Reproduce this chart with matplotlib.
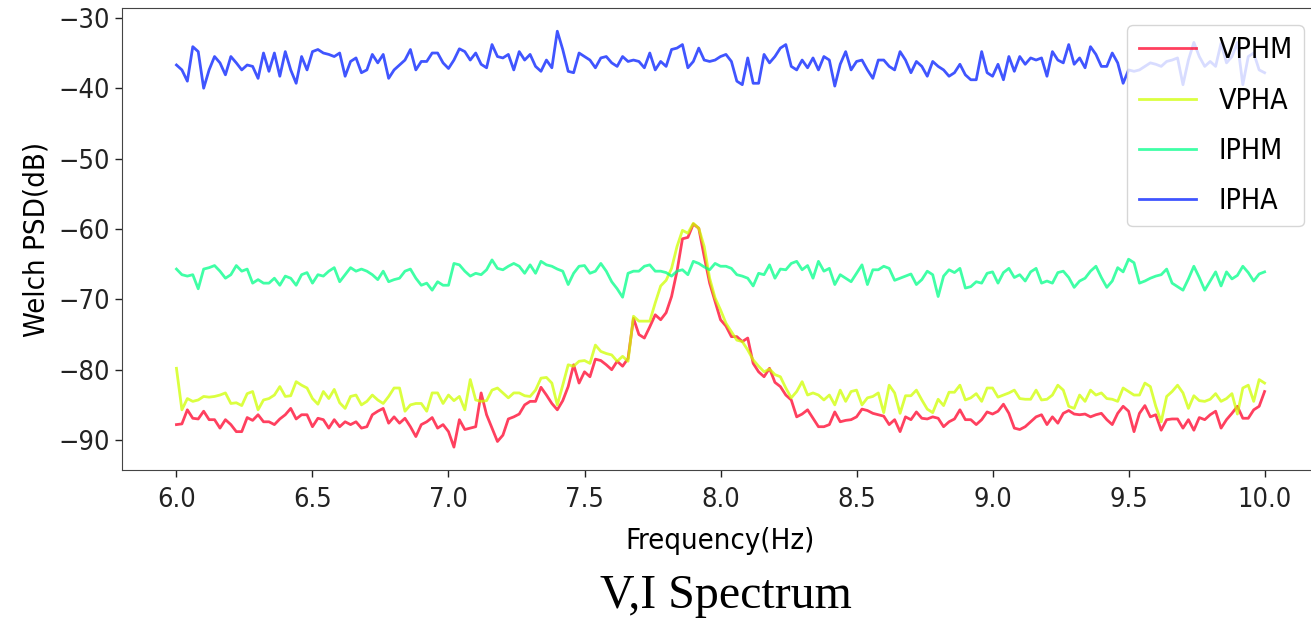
import matplotlib
matplotlib.use("Agg")
import matplotlib.pyplot as plt
import numpy as np

# frequency grid (Hz), 0.02 Hz bins from 6 to 10
freq = np.linspace(6.0, 10.0, 201)

vphm = [
    -87.8, -87.7, -85.7, -86.9, -87.0, -85.9, -87.1, -87.1, -88.3, -87.1,
    -87.8, -88.8, -88.8, -86.8, -87.2, -86.4, -87.4, -87.4, -87.8, -87.0,
    -86.4, -85.5, -87.0, -86.4, -86.4, -88.1, -86.9, -87.1, -88.3, -87.1,
    -88.1, -87.4, -87.8, -87.4, -88.3, -88.1, -86.4, -85.9, -85.5, -87.6,
    -86.7, -87.6, -86.9, -88.1, -89.5, -87.8, -87.4, -86.8, -88.3, -87.8,
    -88.8, -91.0, -87.1, -88.5, -88.3, -88.1, -83.3, -86.4, -88.3, -90.2,
    -89.3, -87.0, -86.7, -86.3, -85.0, -84.5, -84.5, -82.5, -83.6, -84.8,
    -85.7, -84.4, -82.4, -79.3, -81.9, -80.3, -81.0, -78.5, -78.7, -79.3,
    -80.0, -78.8, -79.5, -78.4, -72.7, -75.0, -75.5, -73.9, -72.2, -72.9,
    -71.9, -69.6, -66.0, -61.4, -61.2, -59.3, -59.9, -63.9, -67.7, -70.3,
    -72.9, -73.8, -75.3, -75.3, -76.0, -75.5, -79.1, -80.3, -81.0, -79.8,
    -81.8, -82.4, -83.6, -84.3, -86.7, -86.3, -85.7, -86.9, -88.1, -88.1,
    -87.8, -86.0, -87.4, -87.2, -87.1, -86.7, -85.6, -85.8, -86.2, -86.4,
    -86.6, -87.8, -87.1, -88.8, -86.7, -87.1, -86.0, -86.9, -87.0, -86.7,
    -86.9, -88.1, -87.4, -87.0, -85.7, -87.1, -87.1, -87.8, -87.1, -86.0,
    -86.3, -85.9, -84.9, -86.2, -88.3, -88.5, -88.1, -87.4, -86.7, -86.4,
    -87.8, -86.7, -87.6, -86.2, -85.8, -86.3, -86.4, -86.3, -86.7, -86.4,
    -86.2, -87.1, -87.8, -86.2, -85.2, -85.9, -88.8, -86.2, -85.1, -86.7,
    -86.4, -88.6, -87.1, -87.0, -87.0, -88.3, -87.1, -88.6, -86.8, -87.1,
    -86.4, -85.9, -88.3, -87.1, -86.2, -85.2, -86.9, -86.9, -85.7, -85.2,
    -83.1,
]

vpha = [
    -79.8, -85.7, -84.1, -84.5, -84.3, -83.8, -83.9, -83.8, -83.6, -83.3,
    -84.8, -84.7, -85.1, -83.4, -83.1, -85.7, -84.3, -84.1, -83.6, -82.4,
    -83.8, -83.7, -81.7, -82.2, -82.6, -84.1, -84.9, -83.1, -84.1, -82.8,
    -84.7, -85.5, -83.8, -83.6, -85.0, -84.5, -83.6, -84.3, -84.8, -83.8,
    -82.6, -82.6, -85.9, -85.0, -84.8, -84.8, -85.9, -83.3, -83.3, -84.8,
    -83.6, -84.4, -83.8, -85.7, -81.4, -84.3, -84.5, -84.4, -82.9, -82.6,
    -83.3, -84.0, -83.3, -83.3, -83.7, -83.8, -82.9, -81.2, -81.1, -81.9,
    -85.0, -82.2, -79.3, -79.5, -78.8, -78.7, -79.1, -76.5, -77.4, -77.7,
    -77.9, -78.8, -78.1, -78.8, -72.4, -73.1, -73.1, -73.1, -70.5, -68.1,
    -67.3, -65.6, -62.5, -60.2, -60.6, -59.2, -59.9, -62.5, -67.0, -69.8,
    -71.5, -73.4, -74.6, -75.8, -76.0, -77.2, -78.6, -79.5, -80.3, -79.9,
    -80.7, -81.0, -82.6, -84.0, -83.1, -81.7, -83.6, -83.3, -83.6, -84.3,
    -83.6, -85.0, -82.9, -84.5, -83.1, -82.9, -85.0, -84.0, -83.8, -83.3,
    -86.1, -82.2, -83.3, -86.2, -83.7, -83.7, -82.9, -84.3, -85.6, -86.1,
    -84.2, -85.1, -83.2, -83.2, -82.2, -84.3, -84.0, -83.4, -84.5, -82.6,
    -82.6, -83.9, -83.6, -83.3, -82.9, -84.1, -84.2, -84.2, -82.9, -84.3,
    -84.2, -83.6, -82.2, -82.9, -85.2, -85.5, -83.6, -84.5, -82.9, -83.6,
    -83.3, -84.1, -84.2, -84.5, -82.6, -83.1, -83.6, -83.6, -81.9, -82.4,
    -85.2, -87.4, -83.8, -83.1, -82.2, -83.3, -85.5, -83.7, -84.4, -84.5,
    -84.2, -83.4, -84.5, -84.1, -83.4, -86.3, -82.6, -82.2, -84.5, -81.4,
    -81.9,
]

iphm = [
    -65.7, -66.5, -66.7, -66.5, -68.5, -65.7, -65.5, -65.2, -66.0, -67.0,
    -66.5, -65.2, -66.0, -65.7, -67.7, -67.2, -67.7, -67.7, -67.0, -68.0,
    -66.7, -67.0, -68.0, -66.5, -66.2, -67.7, -66.5, -66.7, -66.0, -65.5,
    -67.5, -66.5, -65.5, -66.0, -65.7, -66.0, -66.5, -67.2, -66.0, -67.5,
    -67.2, -67.0, -66.0, -65.7, -67.0, -68.0, -67.7, -68.7, -67.5, -68.0,
    -68.0, -64.9, -65.1, -66.0, -66.7, -66.3, -66.5, -65.8, -64.4, -65.6,
    -65.8, -65.3, -64.9, -65.3, -66.3, -65.1, -66.3, -64.6, -65.1, -65.3,
    -65.7, -66.0, -67.9, -66.3, -65.3, -65.2, -66.3, -66.0, -64.9, -66.0,
    -67.5, -68.5, -69.7, -66.3, -66.0, -66.0, -65.3, -65.1, -66.0, -66.0,
    -66.2, -66.7, -66.0, -65.8, -66.5, -64.6, -64.9, -65.4, -65.8, -64.9,
    -65.3, -65.3, -65.6, -66.5, -66.7, -67.0, -68.1, -66.3, -66.5, -65.1,
    -67.0, -65.7, -65.8, -64.9, -64.6, -65.8, -65.2, -67.0, -64.6, -66.0,
    -65.6, -67.9, -66.5, -67.0, -67.5, -66.3, -65.1, -67.9, -65.8, -65.8,
    -65.3, -65.6, -67.3, -67.0, -66.7, -66.4, -67.9, -67.2, -66.0, -66.5,
    -69.6, -66.7, -65.8, -66.2, -65.6, -68.4, -68.2, -67.5, -67.7, -66.3,
    -66.1, -67.7, -66.2, -65.6, -66.9, -66.5, -67.4, -66.1, -65.6, -67.7,
    -67.4, -67.7, -66.2, -66.0, -66.9, -68.3, -67.4, -67.0, -66.0, -65.3,
    -66.9, -68.3, -67.4, -65.5, -66.1, -64.3, -64.8, -67.7, -67.4, -67.0,
    -66.7, -66.5, -65.7, -67.7, -68.2, -68.7, -67.1, -65.3, -66.9, -68.7,
    -67.4, -66.1, -68.1, -66.1, -67.1, -66.6, -65.3, -66.2, -67.4, -66.4,
    -66.1,
]

ipha = [
    -36.7, -37.4, -39.0, -34.1, -34.8, -40.0, -37.4, -35.5, -36.4, -38.1,
    -35.5, -36.4, -37.4, -36.7, -36.9, -38.6, -35.0, -37.6, -35.0, -38.3,
    -34.8, -37.4, -39.3, -35.5, -37.4, -34.8, -34.5, -35.0, -35.2, -35.5,
    -35.0, -38.3, -36.2, -35.7, -37.8, -37.4, -35.2, -36.4, -35.2, -38.6,
    -37.4, -36.7, -36.0, -34.5, -37.4, -36.2, -36.2, -35.0, -35.0, -36.4,
    -37.2, -36.0, -34.4, -34.8, -36.0, -35.0, -36.6, -37.1, -33.8, -35.5,
    -35.7, -35.2, -37.4, -34.8, -36.0, -35.2, -36.9, -37.6, -36.0, -37.1,
    -31.9, -34.5, -37.6, -37.8, -35.0, -35.5, -36.0, -37.1, -35.7, -35.5,
    -36.4, -36.9, -35.5, -36.2, -36.0, -36.2, -37.1, -35.0, -37.4, -36.2,
    -36.9, -34.5, -34.3, -33.8, -37.1, -36.2, -34.3, -36.0, -36.2, -36.0,
    -35.5, -35.2, -36.2, -39.0, -39.5, -35.7, -39.3, -39.3, -35.2, -36.4,
    -35.5, -34.3, -33.8, -36.9, -37.4, -36.0, -37.1, -35.7, -37.4, -35.5,
    -36.0, -39.7, -36.6, -34.8, -37.4, -36.2, -36.0, -37.4, -38.6, -36.0,
    -36.0, -36.9, -37.4, -34.8, -36.0, -37.8, -36.2, -36.9, -38.3, -36.2,
    -36.9, -37.4, -38.3, -37.8, -36.6, -38.1, -38.8, -38.8, -34.8, -37.8,
    -38.3, -36.6, -38.8, -35.5, -37.6, -35.5, -36.6, -35.7, -36.0, -35.7,
    -38.3, -34.8, -36.0, -36.4, -33.8, -36.6, -35.7, -37.1, -34.1, -35.2,
    -36.9, -36.9, -35.0, -36.4, -39.3, -37.4, -37.6, -37.4, -36.9, -36.4,
    -36.6, -36.9, -36.2, -36.0, -35.7, -39.5, -36.0, -33.5, -35.5, -36.9,
    -36.2, -36.9, -33.6, -36.4, -35.5, -33.5, -39.5, -35.5, -35.0, -37.4,
    -37.8,
]

labels = ['VPHM', 'VPHA', 'IPHM', 'IPHA']
colors = ['#ff0029', '#cfff00', '#00ff89', '#001cff']

fig = plt.figure(figsize=(13.11, 6.18), dpi=100)
ax = fig.add_axes([0.0931, 0.2395, 0.9130, 0.7476])

for y, lab, c in zip([vphm, vpha, iphm, ipha], labels, colors):
    ax.plot(freq, y, color=c, alpha=0.75, lw=2, label=lab)

ax.set_xlim(5.8, 10.2)
ax.set_ylim(-94.25, -28.6)
ax.set_xticks(np.arange(6.0, 10.01, 0.5))
ax.set_yticks(np.arange(-90, -29, 10))

tfont = dict(family='DejaVu Sans', stretch='condensed')
for lbl in ax.get_xticklabels() + ax.get_yticklabels():
    lbl.set_fontsize(19.5)
    lbl.set_stretch('condensed')
ax.tick_params(length=5, width=1, colors='#222222')
ax.tick_params(axis='x', pad=7)
for s in ax.spines.values():
    s.set_color('#444444')

ax.set_xlabel('Frequency(Hz)', fontsize=21, labelpad=10, **tfont)
ax.set_ylabel('Welch PSD(dB)', fontsize=21, labelpad=6, **tfont)

leg = ax.legend(loc='upper right', bbox_to_anchor=(0.9875, 0.963),
                borderaxespad=0, labelspacing=0.78, handlelength=2.0,
                prop=dict(size=20.5, stretch='condensed'))

fig.text(0.554, 0.035, 'V,I Spectrum', family='Liberation Serif',
         fontsize=34.5, ha='center', va='center')

fig.savefig('out.png', dpi=100)
